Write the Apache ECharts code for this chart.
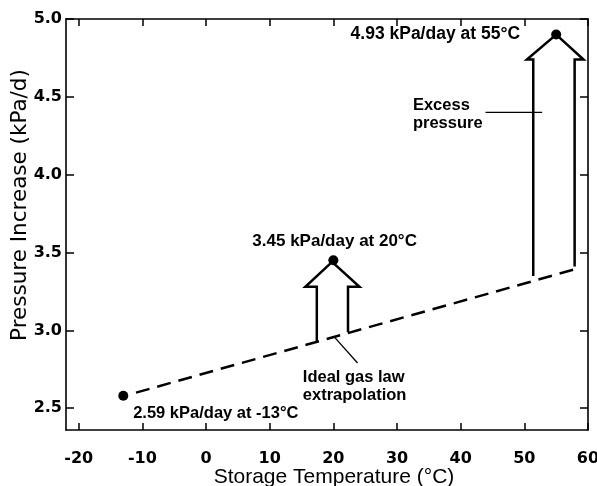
<!DOCTYPE html>
<html>
<head>
<meta charset="utf-8">
<script src="https://cdn.jsdelivr.net/npm/echarts@6/dist/echarts.min.js"></script>
<style>html,body{margin:0;padding:0;background:#fff}#c{width:597px;height:486px}</style>
</head>
<body>
<div id="c"></div>
<script>
// ---- data ----
const xTicks = [-20, -10, 0, 10, 20, 30, 40, 50, 60];
const yTicks = [2.5, 3.0, 3.5, 4.0, 4.5, 5.0];
const measuredPoints = [[-13, 2.58], [20, 3.45], [55, 4.90]];
const idealGasLine = [[-11, 2.60], [58.6, 3.40]];
const arrow20 = [[17.4, 2.93], [17.4, 3.28], [15.6, 3.28], [19.8, 3.44], [24.1, 3.28], [22.3, 3.28], [22.3, 2.99]];
const arrow55 = [[51.4, 3.35], [51.4, 4.74], [50.4, 4.74], [55, 4.90], [59.3, 4.74], [57.9, 4.74], [57.9, 3.41]];
const excessLeader = [[43.9, 4.40], [52.8, 4.40]];
const idealLeader = [[20.1, 2.96], [23.8, 2.79]];
const annotations = [
  {text: '2.59 kPa/day at -13°C', at: [-11.45, 2.465], align: 'left', size: 16.5},
  {text: '3.45 kPa/day at 20°C', at: [20.2, 3.57], align: 'center', size: 17},
  {text: '4.93 kPa/day at 55°C', at: [22.7, 4.90], align: 'left', size: 17.5},
  {text: 'Excess\npressure', at: [32.5, 4.385], align: 'left', size: 16.5},
  {text: 'Ideal gas law\nextrapolation', at: [15.2, 2.64], align: 'left', size: 16.5}
];

const FONT = 'Liberation Sans';
const TICKFONT = 'DejaVu Sans';
const chart = echarts.init(document.getElementById('c'));
const axisLine = {show: true, onZero: false, lineStyle: {color: '#000', width: 1.6}};
const tickIn = (len) => ({show: true, inside: true, length: len, lineStyle: {color: '#000', width: 1.5}});

chart.setOption({
  animation: false,
  backgroundColor: '#fff',
  grid: {left: 66, right: 9, top: 19, bottom: 56, containLabel: false, outerBoundsMode: 'none'},
  xAxis: [{
    type: 'value', min: -22, max: 60, position: 'bottom',
    axisLine, splitLine: {show: false},
    axisTick: Object.assign(tickIn(7), {customValues: xTicks}),
    axisLabel: {customValues: xTicks, color: '#000', fontFamily: TICKFONT, fontSize: 16, fontWeight: 'bold', margin: 21},
    name: 'Storage Temperature (°C)', nameLocation: 'middle', nameGap: 37, nameMoveOverlap: false,
    nameTextStyle: {color: '#000', fontFamily: FONT, fontSize: 21, padding: [0, 0, 0, 14]}
  }, {
    type: 'value', min: -22, max: 60, position: 'top',
    axisLine, splitLine: {show: false},
    axisTick: Object.assign(tickIn(7), {customValues: xTicks}),
    axisLabel: {show: false}
  }],
  yAxis: [{
    type: 'value', min: 2.36, max: 5.0, position: 'left',
    axisLine, splitLine: {show: false},
    axisTick: Object.assign(tickIn(8), {customValues: yTicks}),
    axisLabel: {customValues: yTicks, color: '#000', fontFamily: TICKFONT, fontSize: 16, fontWeight: 'bold', margin: 4,
      formatter: v => v.toFixed(1)},
    name: 'Pressure Increase (kPa/d)', nameLocation: 'middle', nameGap: 35, nameMoveOverlap: false,
    nameTextStyle: {color: '#000', fontFamily: TICKFONT, fontSize: 21.5, padding: [0, 0, 0, 39]}
  }, {
    type: 'value', min: 2.36, max: 5.0, position: 'right',
    axisLine, splitLine: {show: false},
    axisTick: Object.assign(tickIn(8), {customValues: yTicks}),
    axisLabel: {show: false}
  }],
  series: [
    {
      type: 'line', data: idealGasLine, symbol: 'none',
      lineStyle: {color: '#000', width: 2.5, type: [14, 8]}
    },
    {
      type: 'lines', coordinateSystem: 'cartesian2d', polyline: true,
      lineStyle: {color: '#000', width: 2.5, opacity: 1},
      data: [{coords: arrow20}, {coords: arrow55}]
    },
    {
      type: 'lines', coordinateSystem: 'cartesian2d', polyline: true,
      lineStyle: {color: '#000', width: 1.3, opacity: 1},
      data: [{coords: excessLeader}, {coords: idealLeader}]
    },
    {
      type: 'scatter', data: measuredPoints, symbol: 'circle', symbolSize: 10,
      itemStyle: {color: '#000', opacity: 1}
    },
    {
      type: 'scatter', symbolSize: 0, silent: true,
      itemStyle: {opacity: 1},
      data: annotations.map(a => ({
        value: a.at,
        label: {
          show: true, position: 'inside', formatter: a.text, align: a.align, verticalAlign: 'middle',
          color: '#000', fontFamily: FONT, fontSize: a.size, fontWeight: 'bold', lineHeight: 18
        }
      }))
    }
  ]
});
</script>
</body>
</html>
